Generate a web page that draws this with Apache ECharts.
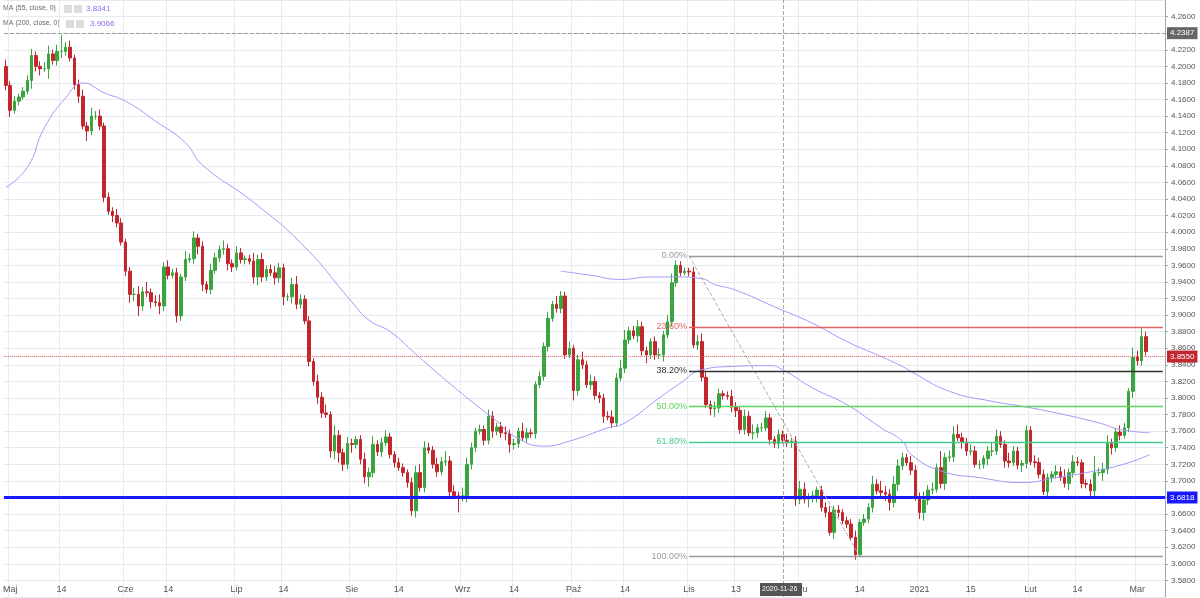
<!DOCTYPE html>
<html><head><meta charset="utf-8">
<script src="https://cdn.jsdelivr.net/npm/echarts@6/dist/echarts.min.js"></script>
<style>html,body{margin:0;padding:0;background:#fff}#c{width:1200px;height:598px}</style>
</head><body><div id="c"></div>
<script>
const firstOpen = 4.200;
const closes = [4.177,4.147,4.158,4.163,4.170,4.183,4.213,4.200,4.197,4.197,4.215,4.207,4.218,4.218,4.223,4.210,4.178,4.164,4.128,4.122,4.140,4.140,4.128,4.042,
4.025,4.020,4.011,3.988,3.953,3.925,3.925,3.911,3.928,3.927,3.916,3.915,3.911,3.958,3.948,3.951,3.899,3.946,3.967,3.968,3.993,3.983,3.937,3.931,3.954,3.969,3.979,3.980,3.962,3.958,3.975,3.967,3.968,3.965,3.946,3.967,3.946,3.955,3.951,3.945,3.957,3.922,3.922,3.937,3.913,3.919,
3.893,3.844,3.820,3.801,3.782,3.780,3.736,3.755,3.734,3.720,3.745,3.744,3.750,3.726,3.705,3.710,3.744,3.735,3.746,3.753,3.732,3.722,3.716,3.710,3.698,3.664,3.710,3.692,3.740,3.737,3.720,3.711,3.723,3.724,3.687,3.682,3.680,3.682,3.720,3.740,3.760,3.762,3.749,3.778,3.760,3.765,
3.758,3.757,3.744,3.745,3.760,3.752,3.758,3.757,3.816,3.826,3.862,3.896,3.913,3.908,3.923,3.852,3.860,3.809,3.846,3.840,3.816,3.820,3.803,3.800,3.778,3.777,3.770,3.824,3.836,3.870,3.881,3.875,3.886,3.857,3.852,3.868,3.852,3.852,3.876,3.892,3.939,3.960,3.951,3.953,3.952,
3.864,3.868,3.825,3.792,3.787,3.788,3.805,3.803,3.802,3.789,3.785,3.762,3.778,3.758,3.758,3.764,3.764,3.776,3.750,3.745,3.756,3.749,3.746,3.748,3.678,3.690,3.678,3.680,3.682,3.689,3.668,3.662,3.638,3.665,3.662,3.652,3.648,3.632,3.611,3.650,3.654,3.668,3.696,3.688,3.686,3.684,3.674,3.696,3.718,
3.728,3.722,3.713,3.681,3.662,3.677,3.689,3.690,3.716,3.697,3.728,3.729,3.756,3.752,3.747,3.736,3.736,3.720,3.720,3.727,3.736,3.736,3.754,3.744,3.724,3.722,3.736,3.719,3.721,3.761,3.723,3.722,3.708,3.687,3.704,3.708,3.711,3.704,3.697,3.710,3.723,3.722,3.697,3.696,3.688,3.710,3.710,3.714,3.745,3.740,3.759,3.755,3.764,3.808,3.849,3.845,3.874,3.856];
// wick lengths beyond the body, in thousandths
const wickDown = [6,8,4,5,3,4,10,6,8,4,12,5,6,8,5,4,6,8,4,12,5,4,5,6,
4,8,5,4,6,10,8,12,6,5,8,5,10,6,5,4,8,6,5,4,6,10,8,5,6,4,5,6,8,6,4,5,6,4,8,10,6,5,4,8,6,10,5,8,6,5,
4,6,5,8,6,4,8,10,12,8,6,10,5,6,8,12,6,5,6,4,5,6,4,5,6,6,8,5,6,4,5,6,4,5,8,4,18,5,8,6,5,4,6,5,8,5,
6,8,10,6,5,4,6,5,6,4,5,6,4,5,6,5,4,12,6,5,4,6,5,6,8,4,6,5,4,6,5,4,8,6,10,5,6,5,8,4,6,5,4,3,5,
4,6,5,4,8,10,6,5,4,6,8,5,6,4,8,6,5,4,6,5,6,4,5,6,8,6,5,10,6,8,5,6,4,8,6,4,5,4,6,2,4,5,6,4,6,8,10,6,8,5,
4,6,5,8,10,6,5,4,6,8,5,6,4,8,6,5,4,6,5,8,6,5,4,8,6,4,5,8,6,4,6,5,4,8,6,5,4,5,8,6,4,6,5,8,6,4,10,6,8,5,6,4,5,8,6,6,5,8];
const wickUp = [8,5,6,4,5,6,8,5,6,8,10,5,8,20,6,8,4,6,8,5,10,6,8,4,
6,5,8,6,4,5,8,10,6,12,5,8,10,6,8,5,6,4,10,6,8,5,6,4,8,6,5,10,6,5,8,6,4,5,10,6,8,5,6,8,6,5,4,8,10,6,
5,6,4,8,6,10,4,12,6,5,8,6,4,5,8,6,10,5,6,8,5,4,6,5,4,6,8,10,8,6,5,8,6,12,6,8,5,10,8,6,4,6,5,8,6,5,
6,8,5,6,4,10,6,5,4,6,5,8,4,10,6,5,8,4,6,10,5,8,6,4,5,6,8,6,10,12,5,6,8,6,5,4,6,8,5,8,11,6,5,4,
4,6,8,10,6,5,8,6,4,5,8,6,5,8,6,10,5,6,8,5,4,6,5,8,4,6,10,8,5,6,4,5,6,8,5,6,4,5,6,8,4,6,5,10,6,12,8,6,10,8,
6,5,8,6,5,10,6,8,5,20,6,8,10,12,6,5,8,6,5,4,6,10,8,6,5,10,6,5,4,6,5,8,6,6,5,4,8,6,10,5,8,6,4,5,6,20,6,8,10,6,5,8,6,4,12,8,10,6,6,8,10];
const categoryCount = 272;
const tickLabels = {1:'Maj',13:'14',28:'Cze',38:'14',54:'Lip',65:'14',81:'Sie',92:'14',107:'Wrz',119:'14',133:'Paź',145:'14',160:'Lis',171:'13',186:'Gru',200:'14',214:'2021',226:'15',240:'Lut',251:'14',265:'Mar'};
const ma55 = [[0,4.054],[5,4.078],[9,4.126],[14,4.162],[18,4.180],[23,4.168],[28,4.158],[35,4.134],[42,4.108],[46,4.081],[58,4.036],[70,3.982],[81,3.916],[85,3.894],[90,3.880],[96,3.853],[102,3.826],[110,3.792],[115,3.772],[119,3.754],[126,3.742],[132,3.748],[141,3.764],[145,3.770],[153,3.800],[158,3.818],[163,3.834],[170,3.838],[179,3.839],[182,3.834],[189,3.812],[197,3.792],[205,3.764],[210,3.748],[212,3.732],[219,3.712],[228,3.704],[238,3.698],[246,3.704],[256,3.713],[263,3.722],[268,3.732]];
const ma200 = [[130,3.953],[137,3.948],[144,3.943],[151,3.946],[157,3.946],[163,3.944],[166,3.937],[171,3.930],[180,3.910],[189,3.890],[197,3.868],[205,3.850],[210,3.838],[212,3.832],[221,3.808],[231,3.796],[238,3.790],[246,3.782],[256,3.770],[261,3.762],[268,3.758]];
const fibHigh = 3.9714, fibLow = 3.6086;
const fibLevels = [[0,'0.00%','#9a9a9a'],[0.236,'23.60%','#e36464'],[0.382,'38.20%','#333333'],[0.5,'50.00%','#5fd35f'],[0.618,'61.80%','#45c98e'],[1,'100.00%','#9a9a9a']];

const cats = [], ohlc = [];
for (let i = 0; i < categoryCount; i++) cats.push(String(i));
let prev = firstOpen;
closes.forEach((c, i) => {
  const o = prev;
  const lo = Math.min(o, c) - wickDown[i] / 1000, hi = Math.max(o, c) + wickUp[i] / 1000;
  ohlc.push([o, c, lo, hi]); prev = c;
});
const fibLines = fibLevels.map(([r, t, col]) => {
  const v = +(fibHigh - r * (fibHigh - fibLow)).toFixed(4);
  return [{coord:[160, v], lineStyle:{color:col,width:1.3,type:'solid'}, label:{show:true,position:'start',formatter:t,color:col,fontSize:9,distance:2}},{coord:[271, v]}];
});
const chart = echarts.init(document.getElementById('c'));
chart.setOption({
  animation:false,
  grid:{left:0,right:35,top:-4,bottom:1},
  xAxis:{type:'category',data:cats,boundaryGap:true,
    axisLine:{show:false},axisTick:{show:false},
    axisLabel:{inside:true,interval:0,margin:3,fontSize:9,color:'#555',verticalAlign:'bottom',
      formatter:(v)=>tickLabels[+v]||''},
    splitLine:{show:true,interval:(i)=>tickLabels[i]!==undefined,lineStyle:{color:'#e4ecf2'}}},
  yAxis:{type:'value',position:'right',min:3.56,max:4.28,interval:0.02,
    axisLine:{show:true,lineStyle:{color:'#9aa'}},axisTick:{show:true,length:3,lineStyle:{color:'#9aa'}},
    axisLabel:{fontSize:8,color:'#555',margin:6,showMinLabel:false,showMaxLabel:false,formatter:(v)=>v.toFixed(4)},
    splitLine:{lineStyle:{color:'#e4ecf2'}}},
  series:[
    {type:'candlestick',data:ohlc,barWidth:3,
      itemStyle:{color:'#3aa53f',color0:'#c1272d',borderColor:'#3aa53f',borderColor0:'#c1272d',borderWidth:1},
      markLine:{symbol:'none',silent:true,animation:false,
        data:[
          {yAxis:4.2387,lineStyle:{color:'#999',type:'dashed',width:1},label:{position:'end',formatter:'4.2387',color:'#fff',backgroundColor:'#666',padding:[2,3],fontSize:8,distance:2}},
          {yAxis:3.8550,lineStyle:{color:'#e06060',type:'dotted',width:1},label:{position:'end',formatter:'3.8550',color:'#fff',backgroundColor:'#c1272d',padding:[2,3],fontSize:8,distance:2}},
          {yAxis:3.6818,lineStyle:{color:'#1a1aff',type:'solid',width:3},label:{position:'end',formatter:'3.6818',color:'#fff',backgroundColor:'#1a1aff',padding:[2,3],fontSize:8,distance:2}},
          {xAxis:182,lineStyle:{color:'#aaa',type:'dashed',width:1},label:{show:false}},
          [{coord:[160,fibHigh],lineStyle:{color:'#aaa',type:'dashed',width:1},label:{show:false}},{coord:[200,fibLow]}],
          ...fibLines
        ]}},
    {type:'line',data:ma55,smooth:true,symbol:'none',lineStyle:{color:'#a797f7',width:1}},
    {type:'line',data:ma200,smooth:true,symbol:'none',lineStyle:{color:'#a797f7',width:1}}
  ],
  graphic:[
    {type:'text',left:3,top:5,style:{text:'MA (55, close, 0)',fontSize:7,fill:'#666'}},
    {type:'rect',shape:{x:64,y:5,width:8,height:8},style:{fill:'#ddd'}},
    {type:'rect',shape:{x:74,y:5,width:8,height:8},style:{fill:'#ddd'}},
    {type:'text',left:86,top:5,style:{text:'3.8341',fontSize:8,fill:'#8a6cf0'}},
    {type:'text',left:3,top:20,style:{text:'MA (200, close, 0)',fontSize:7,fill:'#666'}},
    {type:'rect',shape:{x:66,y:20,width:8,height:8},style:{fill:'#ddd'}},
    {type:'rect',shape:{x:76,y:20,width:8,height:8},style:{fill:'#ddd'}},
    {type:'text',left:90,top:20,style:{text:'3.9066',fontSize:8,fill:'#8a6cf0'}},
    {type:'rect',z:100,shape:{x:760,y:583,width:42,height:13},style:{fill:'#555'}},
    {type:'text',z:101,left:762,top:586,style:{text:'2020-11-26',fontSize:7,fill:'#fff'}}
  ]
});
</script></body></html>
